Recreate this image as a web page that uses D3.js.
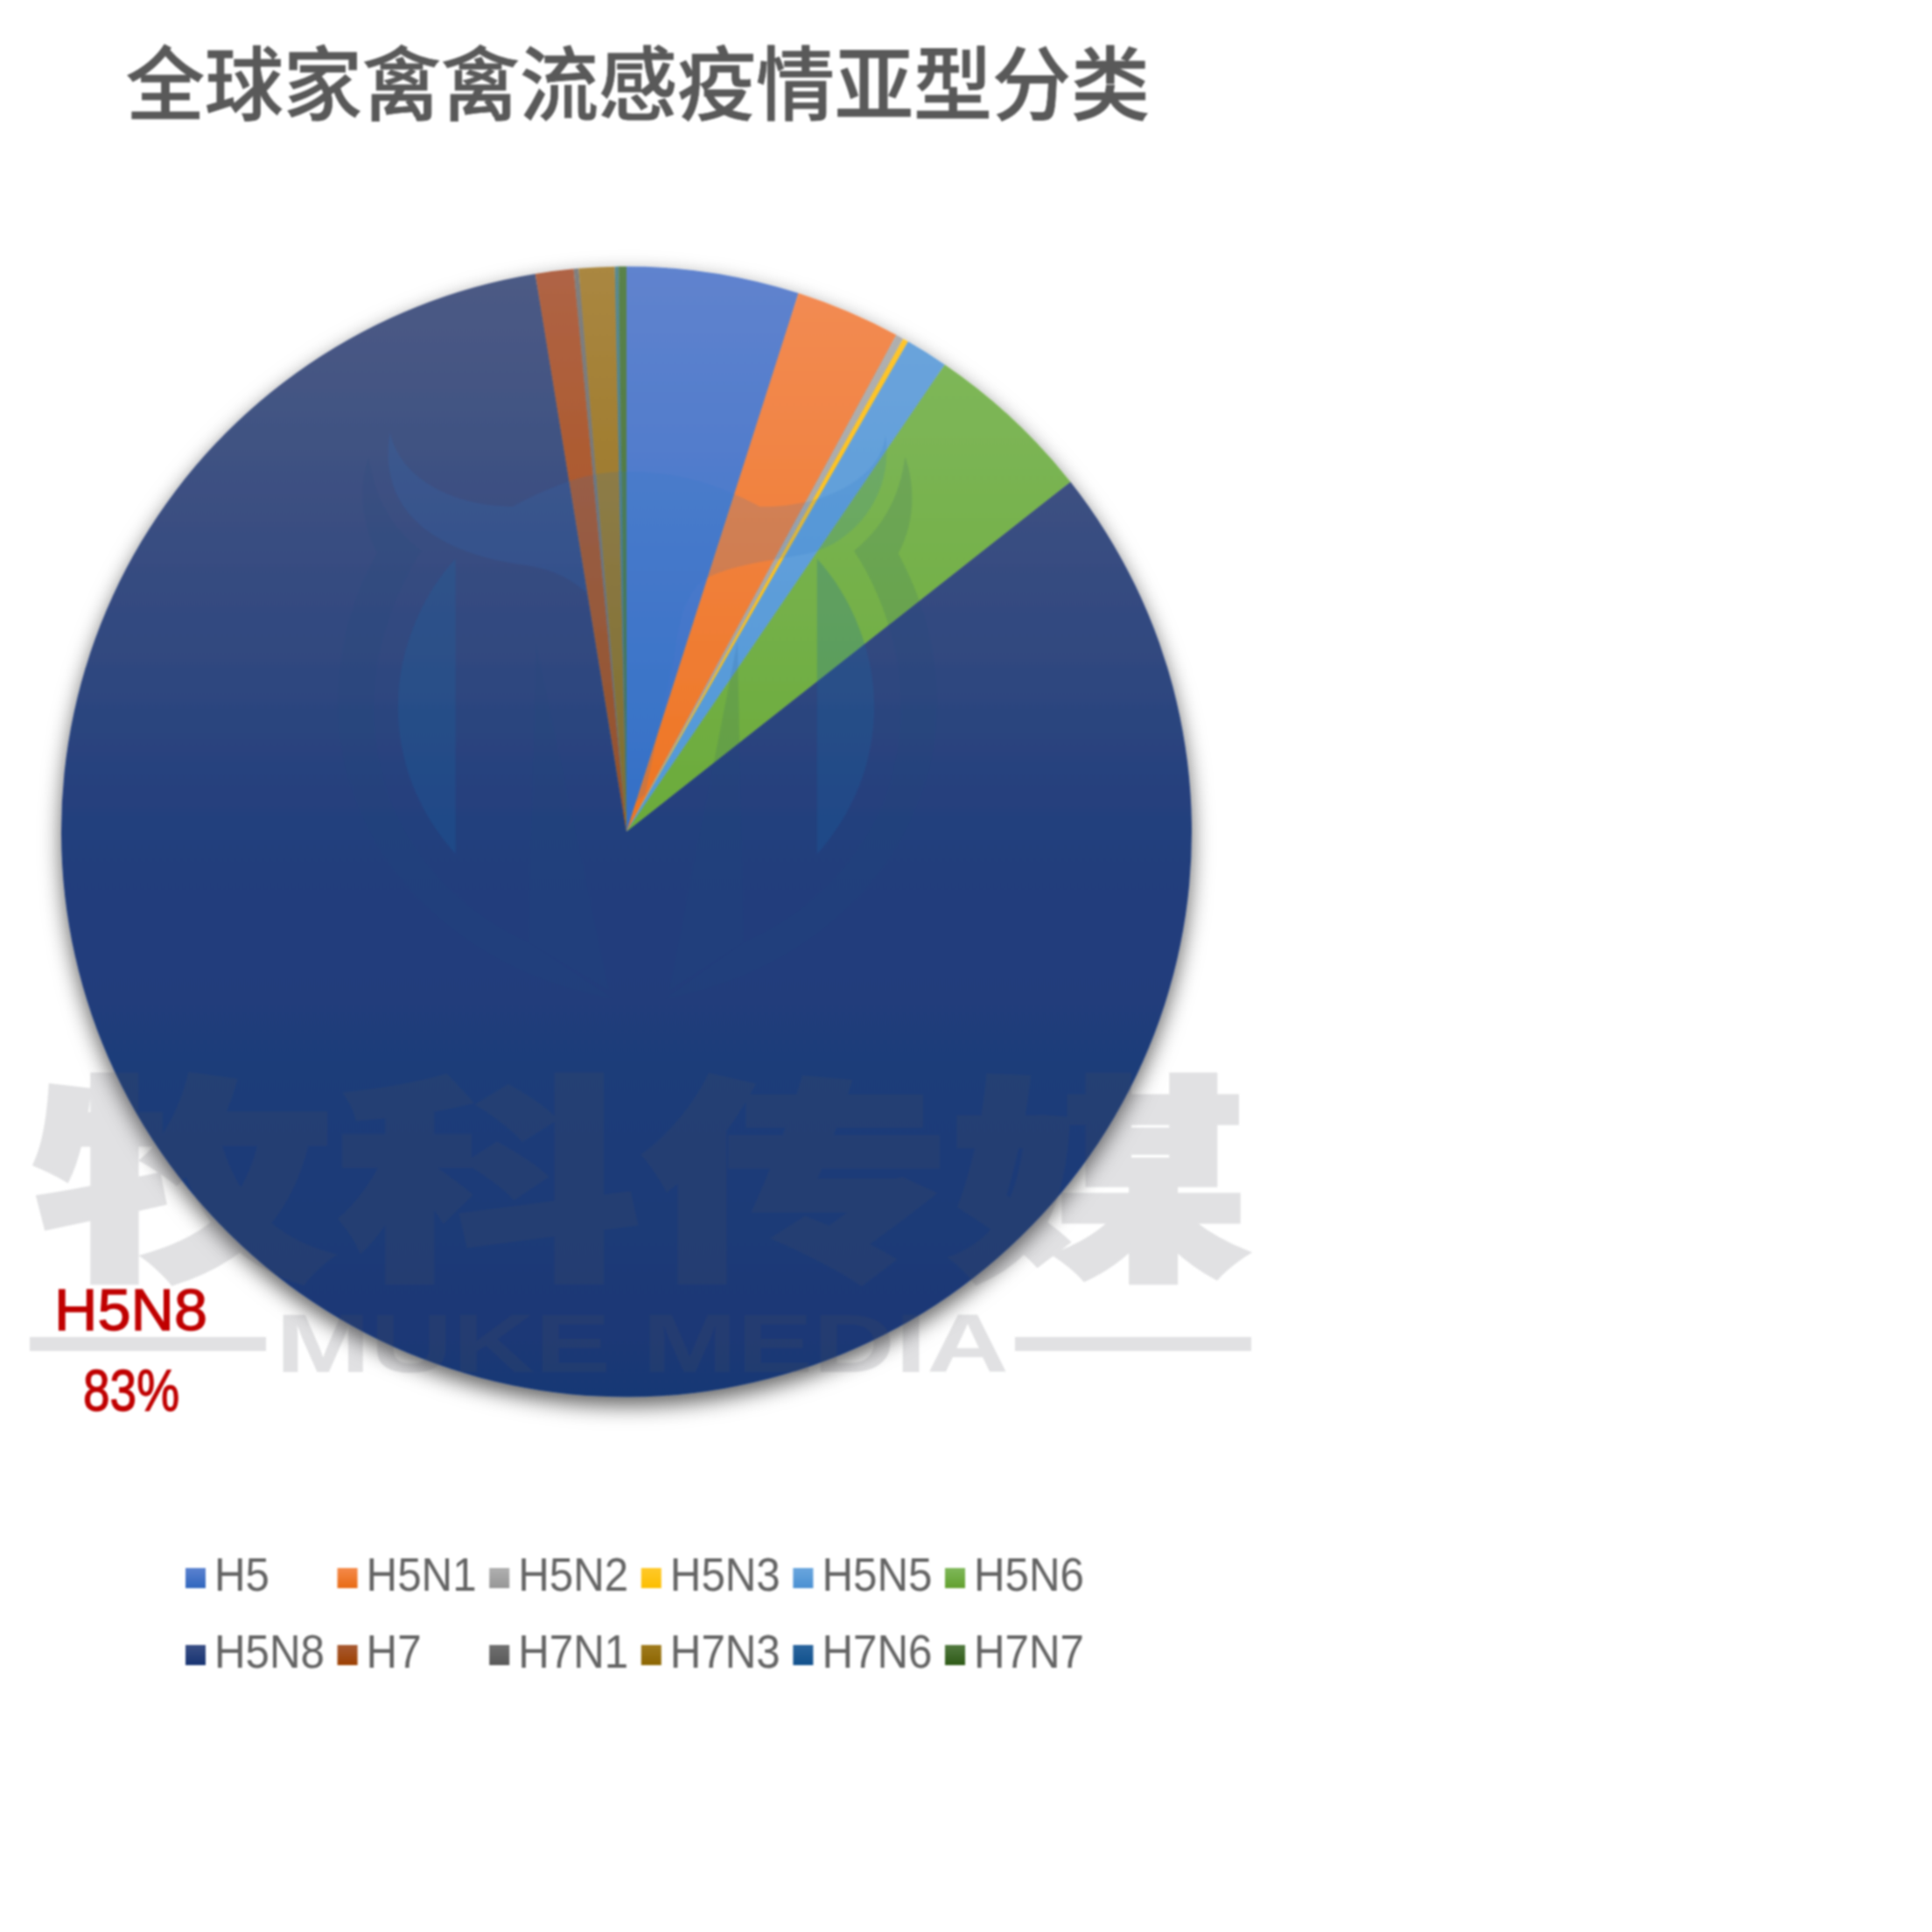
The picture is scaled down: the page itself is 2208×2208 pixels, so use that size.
<!DOCTYPE html>
<html><head><meta charset="utf-8">
<script src="https://cdn.jsdelivr.net/npm/d3@7"></script>
<style>html,body{margin:0;padding:0;background:#fff}svg{display:block;filter:blur(0.9px)}</style>
</head><body><svg id="c" width="2208" height="2208" viewBox="0 0 2208 2208"></svg>
<script>
const titleText = "全球家禽禽流感疫情亚型分类";
const categories = ["H5","H5N1","H5N2","H5N3","H5N5","H5N6","H5N8","H7","H7N1","H7N3","H7N6","H7N7"];
const shareValues = [4.92,3.00,0.22,0.16,1.22,4.86,83.04,1.09,0.14,1.02,0.11,0.22];
const sliceTop = ["#6083ce","#f38c55","#b2b2b2","#ffc62e","#6ea5dc","#82b95f","#4d5b85","#af6446","#808080","#aa8741","#5a8a90","#5a824b"];
const sliceMid = ["#3570c8","#ee7522","#a0a0a0","#fcbf10","#5098d8","#6bab3a","#233f7d","#aa4a0a","#6a6a6a","#8f6c12","#3a7090","#46733a"];
const sliceEnd = ["#2d62bc","#e0640c","#909090","#f0b000","#4488c8","#5c9a28","#193875","#963c00","#555555","#7c5c00","#104e88","#2e5a16"];
const swatchTop = ["#5b82d0","#f58a4a","#b0b0b0","#ffc92a","#6aa6de","#7fb85a","#3a4f85","#a85a32","#707070","#a07c1e","#2a659e","#527a40"];
const swatchEnd = ["#3066be","#e86a14","#969696","#fcbe00","#4a90d2","#62a02e","#163372","#9c3f00","#585858","#8c6500","#10508c","#2e5a16"];
const watermarkCn = "牧科传媒";
const watermarkEn = "MUKE MEDIA";
const calloutCategory = "H5N8";

const svg = d3.select("#c");
const defs = svg.append("defs");
const cx = 716, cy = 950.5, R = 646;

const shadow = defs.append("filter").attr("id","pieShadow").attr("x","-10%").attr("y","-10%").attr("width","120%").attr("height","120%");
shadow.append("feDropShadow").attr("dx",0).attr("dy",10).attr("stdDeviation",12).attr("flood-color","#000").attr("flood-opacity",0.62);

categories.forEach((c,i)=>{
  const g = defs.append("linearGradient").attr("id","s"+i).attr("gradientUnits","userSpaceOnUse")
    .attr("x1",0).attr("x2",0).attr("y1",-R).attr("y2",R);
  g.append("stop").attr("offset",0).attr("stop-color",sliceTop[i]);
  g.append("stop").attr("offset",0.5).attr("stop-color",sliceMid[i]);
  g.append("stop").attr("offset",1).attr("stop-color",sliceEnd[i]);
  const l = defs.append("linearGradient").attr("id","k"+i).attr("x1",0).attr("x2",0).attr("y1",0).attr("y2",1);
  l.append("stop").attr("offset",0).attr("stop-color",swatchTop[i]);
  l.append("stop").attr("offset",1).attr("stop-color",swatchEnd[i]);
});

// title
svg.append("text").attr("x",144).attr("y",130)
  .attr("font-family","'Noto Sans CJK SC'").attr("font-size",92).attr("font-weight",500)
  .attr("fill","#595959").attr("stroke","#595959").attr("stroke-width",0.8)
  .attr("textLength",1170).attr("lengthAdjust","spacingAndGlyphs").text(titleText);

// pie
const pie = d3.pie().sort(null).value(d=>d)(shareValues);
const arc = d3.arc().innerRadius(0).outerRadius(R);
const pieG = svg.append("g").attr("transform",`translate(${cx},${cy})`).attr("filter","url(#pieShadow)");
pieG.selectAll("path").data(pie).join("path")
  .attr("d",arc)
  .attr("fill",(d,i)=>`url(#s${i})`);

// watermark: bull logo (traced in a 2.178x local frame)
const logo = svg.append("g").attr("transform","translate(370,471) scale(0.4591)");
const dark = {fill:"#1c4a78",op:0.13}, light = {fill:"#2a74c4",op:0.16}, lens = {fill:"#1a68a8",op:0.24};
const shapes = [
  ["M165,50 C190,170 330,235 470,235 C600,165 680,148 750,148 C900,148 1000,190 1085,235 C1230,240 1390,170 1398,55 C1420,200 1330,310 1230,345 C1170,365 1040,370 960,410 C900,440 885,520 870,620 L800,950 L745,1000 L655,450 C600,400 540,385 480,378 C300,350 130,260 165,50 Z", light],
  ["M112,110 C85,190 95,280 133,350 C60,480 35,610 35,730 C35,1050 280,1380 720,1460 L510,1320 C270,1210 125,1000 125,730 C125,600 170,460 243,345 C170,290 125,210 112,110 Z", dark],
  ["M1447,110 C1475,190 1470,280 1430,352 C1500,480 1527,610 1527,730 C1527,1050 1280,1380 850,1460 L1045,1320 C1290,1210 1437,1000 1437,730 C1437,600 1395,460 1320,345 C1390,290 1435,210 1447,110 Z", dark],
  ["M328,365 C240,460 185,600 185,730 C185,880 240,1000 328,1100 Z", lens],
  ["M1228,365 C1315,460 1370,600 1370,730 C1370,880 1315,1000 1228,1100 Z", lens],
  ["M528,575 L710,1440 L510,1320 Z", dark],
  ["M1030,570 L1045,1320 L860,1440 Z", dark],
];
shapes.forEach(([d,s])=>logo.append("path").attr("d",d).attr("fill",s.fill).attr("fill-opacity",s.op));

// watermark text
const wm = svg.append("g").attr("fill","#4c505a").attr("opacity",0.17);
const cnScale = d3.scaleBand().domain(d3.range(watermarkCn.length)).range([36,1430]);
wm.selectAll("text.cn").data(Array.from(watermarkCn)).join("text").attr("class","cn")
  .attr("font-family","'Noto Sans CJK SC'").attr("font-weight",900).attr("font-size",250)
  .attr("stroke","#4c505a").attr("stroke-width",5)
  .attr("text-anchor","middle")
  .attr("transform",(d,i)=>`translate(${cnScale(i)+cnScale.bandwidth()/2},1442) scale(1.39,1)`)
  .text(d=>d);
wm.append("text").attr("x",315).attr("y",1568).attr("font-family","'Liberation Sans'").attr("font-weight",700)
  .attr("font-size",95).attr("textLength",838).attr("lengthAdjust","spacingAndGlyphs").text(watermarkEn);
wm.append("rect").attr("x",34).attr("y",1528).attr("width",270).attr("height",16);
wm.append("rect").attr("x",1160).attr("y",1528).attr("width",270).attr("height",16);

// callout
const calloutIdx = categories.indexOf(calloutCategory);
const callout = svg.append("g").attr("fill","#c00000").attr("font-family","'Liberation Sans'").attr("stroke","#c00000").attr("stroke-width",1.3);
callout.append("text").attr("x",62).attr("y",1520).attr("font-size",67).attr("textLength",175).attr("lengthAdjust","spacingAndGlyphs").text(calloutCategory);
callout.append("text").attr("x",95).attr("y",1612).attr("font-size",67).attr("textLength",110).attr("lengthAdjust","spacingAndGlyphs")
  .text(d3.format(".0f")(shareValues[calloutIdx])+"%");

// legend
const perRow = 6;
const colX = d3.scaleLinear().domain([0,5]).range([212,1080]);
const rowY = d3.scaleLinear().domain([0,1]).range([1792,1880]);
const lg = svg.append("g").selectAll("g").data(categories).join("g")
  .attr("transform",(d,i)=>`translate(${colX(i%perRow)},${rowY(Math.floor(i/perRow))})`);
lg.append("rect").attr("width",23).attr("height",23).attr("fill",(d,i)=>`url(#k${i})`);
lg.append("text").attr("transform","translate(33,26) scale(0.93,1)")
  .attr("font-family","'Liberation Sans'").attr("font-size",53).attr("fill","#636363").text(d=>d);
</script></body></html>
